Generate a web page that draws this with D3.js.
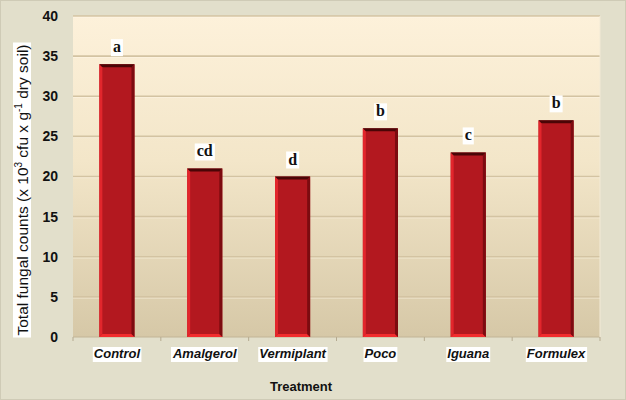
<!DOCTYPE html>
<html><head><meta charset="utf-8">
<script src="https://cdn.jsdelivr.net/npm/d3@7"></script>
<style>body{margin:0;background:#e2dfcb;}svg{display:block;}</style>
</head><body>
<svg id="c" width="626" height="400"></svg>
<script>
const categories = ["Control","Amalgerol","Vermiplant","Poco","Iguana","Formulex"];
const values = [34,21,20,26,23,27];
const letters = ["a","cd","d","b","c","b"];
const yTicks = [0,5,10,15,20,25,30,35,40];

const svg = d3.select("#c");
const W=626,H=400;
const m={l:73,r:26,t:16,b:63};
const pw=W-m.l-m.r, ph=H-m.t-m.b;

svg.append("rect").attr("width",W).attr("height",H).attr("fill","#e2dfcb");
svg.append("rect").attr("x",0.5).attr("y",0.5).attr("width",W-1).attr("height",H-1).attr("fill","none").attr("stroke","#cfcbb6");

const defs=svg.append("defs");
const g1=defs.append("linearGradient").attr("id","bg").attr("x1",0).attr("y1",0).attr("x2",0).attr("y2",1);
g1.append("stop").attr("offset",0).attr("stop-color","#fdf1da");
g1.append("stop").attr("offset",0.45).attr("stop-color","#f3e6c9");
g1.append("stop").attr("offset",1).attr("stop-color","#d6c8a7");

const x=d3.scaleBand().domain(categories).range([m.l,m.l+pw]).paddingInner(0.6).paddingOuter(0.3);
const y=d3.scaleLinear().domain([0,40]).range([m.t+ph,m.t]);

const g=svg.append("g");
g.append("rect").attr("x",m.l).attr("y",m.t).attr("width",pw).attr("height",ph).attr("fill","url(#bg)");
g.selectAll(".grid").data(yTicks.filter(d=>d>0)).join("line")
 .attr("x1",m.l).attr("x2",m.l+pw).attr("y1",d=>y(d)).attr("y2",d=>y(d))
 .attr("stroke","#d3c3a2").attr("stroke-width",1.6);
g.selectAll(".grid2").data(yTicks.filter(d=>d>0)).join("line")
 .attr("x1",m.l).attr("x2",m.l+pw).attr("y1",d=>y(d)+1.3).attr("y2",d=>y(d)+1.3)
 .attr("stroke","#fff8e8").attr("stroke-width",0.8).attr("opacity",0.6);
g.append("line").attr("x1",m.l).attr("x2",m.l+pw).attr("y1",y(0)).attr("y2",y(0)).attr("stroke","#c2b596").attr("stroke-width",1);
g.append("line").attr("x1",m.l+pw).attr("x2",m.l+pw).attr("y1",m.t).attr("y2",y(0)).attr("stroke","#f2ead6").attr("stroke-width",1);

const bounds=d3.range(categories.length+1).map(i=>m.l+i*pw/categories.length);
g.selectAll(".xt").data(bounds).join("line").attr("x1",d=>d).attr("x2",d=>d)
 .attr("y1",y(0)).attr("y2",y(0)+4).attr("stroke","#b5aa90");

const bw=x.bandwidth();
const bars=g.selectAll(".bar").data(categories).join("g");
const s=3;
bars.each(function(c,i){
  const gg=d3.select(this);
  const x0=x(c), x1=x0+bw, yt=y(values[i]), yb=y(0);
  gg.append("rect").attr("x",x0).attr("y",yt).attr("width",bw).attr("height",yb-yt).attr("fill","#b3181f");
  gg.append("polygon").attr("points",[[x0,yt],[x0+s,yt+s],[x0+s,yb-s],[x0,yb]].join(" ")).attr("fill","#e2262c");
  gg.append("polygon").attr("points",[[x0,yb],[x0+s,yb-s],[x1-s,yb-s],[x1,yb]].join(" ")).attr("fill","#f22c2e");
  gg.append("polygon").attr("points",[[x1,yt],[x1-s,yt+s],[x1-s,yb-s],[x1,yb]].join(" ")).attr("fill","#7c0b10");
  gg.append("polygon").attr("points",[[x0,yt],[x0+s,yt+s],[x1-s,yt+s],[x1,yt]].join(" ")).attr("fill","#4a0506");
});

const lab=g.selectAll(".lt").data(categories).join("g");
lab.each(function(c,i){
  const gg=d3.select(this);
  const cx=x(c)+bw/2, yy=y(values[i])-12;
  const t=gg.append("text").attr("x",cx).attr("y",yy).attr("text-anchor","middle")
   .attr("font-family","Liberation Serif, Times New Roman, serif").attr("font-weight","bold").attr("font-size",16)
   .attr("fill","#111").text(letters[i]);
  const bb=t.node().getBBox();
  gg.insert("rect","text").attr("x",bb.x-2).attr("y",bb.y+1).attr("width",bb.width+4).attr("height",bb.height).attr("fill","#fff");
});

const xl=g.selectAll(".xl").data(categories).join("g");
xl.each(function(c){
  const gg=d3.select(this);
  const t=gg.append("text").attr("x",x(c)+bw/2).attr("y",y(0)+21).attr("text-anchor","middle")
   .attr("font-family","Liberation Sans, Arial, sans-serif").attr("font-weight","bold").attr("font-style","italic")
   .attr("font-size",13).attr("fill","#111").text(c);
  const bb=t.node().getBBox();
  gg.insert("rect","text").attr("x",bb.x-1).attr("y",bb.y+1).attr("width",bb.width+2).attr("height",bb.height).attr("fill","#fff");
});

const yAxis=d3.axisLeft(y).tickValues(yTicks).tickSize(0).tickPadding(15);
const ya=svg.append("g").attr("transform",`translate(${m.l},0)`).call(yAxis);
ya.select(".domain").remove();
ya.selectAll("text").attr("font-family","Liberation Sans, Arial, sans-serif").attr("font-weight","bold")
  .attr("font-size",14).attr("fill","#111");

const yt=svg.append("g").attr("transform","translate(28,190) rotate(-90)");
const ytt=yt.append("text").attr("text-anchor","middle").attr("font-family","Liberation Sans, Arial, sans-serif")
  .attr("font-size",15.5).attr("fill","#111");
ytt.append("tspan").text("Total fungal counts (x 10");
ytt.append("tspan").attr("dy",-6).attr("font-size",10).text("3");
ytt.append("tspan").attr("dy",6).text(" cfu x g");
ytt.append("tspan").attr("dy",-6).attr("font-size",10).text("-1");
ytt.append("tspan").attr("dy",6).text(" dry soil)");
const ybb=ytt.node().getBBox();
yt.insert("rect","text").attr("x",ybb.x-2).attr("y",ybb.y).attr("width",ybb.width+4).attr("height",ybb.height).attr("fill","#fff");

svg.append("text").attr("x",301).attr("y",391).attr("text-anchor","middle")
 .attr("font-family","Liberation Sans, Arial, sans-serif").attr("font-weight","bold").attr("font-size",13)
 .attr("fill","#111").text("Treatment");
</script>
</body></html>
